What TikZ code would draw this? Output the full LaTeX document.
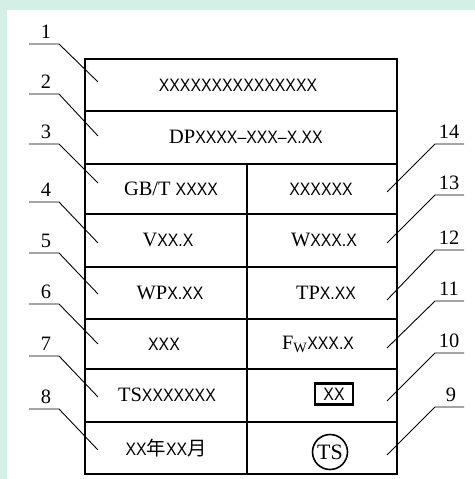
\documentclass[tikz,border=0pt]{standalone}
\usepackage{fontspec}
\setmainfont{Liberation Serif}
\newfontfamily\sansx{Liberation Sans}[Scale=0.88,FakeStretch=0.88]
\newfontfamily\cjk{Noto Sans CJK SC}[Scale=0.95]
\newcommand\sx[1]{{\sansx #1}}
\newcommand\hz[1]{{\cjk #1}}
\definecolor{mint}{RGB}{212,240,230}

\begin{document}
\begin{tikzpicture}[x=1bp,y=-1bp,
  every node/.style={font=\fontsize{20.5}{22}\selectfont, inner sep=0pt},
  frame/.style={line width=1.4bp},
  leader/.style={line width=0.9bp}]
\fill[mint] (0,0) rectangle (475,479);
\fill[white] (7,10) rectangle (475,479);
\useasboundingbox (0,0) rectangle (475,479);

%table
\draw[frame] (85,59) rectangle (397,474);
\draw[frame] (85,111) -- (397,111);
\draw[frame] (85,164) -- (397,164);
\draw[frame] (85,214) -- (397,214);
\draw[frame] (85,267) -- (397,267);
\draw[frame] (85,319) -- (397,319);
\draw[frame] (85,369) -- (397,369);
\draw[frame] (85,422) -- (397,422);
\draw[frame] (247,164) -- (247,474); %middle

%left column
\node (t1) at (238,85) {\sx{XXXXXXXXXXXXXXX}};
\node (t2) at (246,137) {DP\sx{XXXX–XXX–X.XX}};
\node (t3) at (171,189) {GB/T \sx{XXXX}};
\node (t4) at (168,240) {V\sx{XX.X}};
\node (t5) at (170,293) {WP\sx{X.XX}};
\node (t6) at (164,344) {\sx{XXX}};
\node (t7) at (167,395) {TS\sx{XXXXXXX}};
\node (t8) at (166,448) {\sx{XX}\hz{年}\sx{XX}\hz{月}};

%right column
\node (t14) at (321,189) {\sx{XXXXXX}};
\node (t13) at (324,240) {W\sx{XXX.X}};
\node (t12) at (326,293) {TP\sx{X.XX}};
\node (t11) at (318,344) {F\textsubscript{W}\sx{XXX.X}};
\node[draw, line width=2.2bp, minimum width=38bp, minimum height=21bp] (t10) at (334,394) {\sx{XX}};
\node[draw, circle, line width=1.6bp, minimum size=35bp, font=\fontsize{22}{22}\selectfont] (t9) at (330,452) {TS};

%left leaders
\coordinate (a1) at (59,44);  \coordinate (p1) at (98,82);
\coordinate (a2) at (59,94);  \coordinate (p2) at (98,136);
\coordinate (a3) at (59,144); \coordinate (p3) at (98,183);
\coordinate (a4) at (59,202); \coordinate (p4) at (98,243);
\coordinate (a5) at (59,253); \coordinate (p5) at (98,294);
\coordinate (a6) at (59,304); \coordinate (p6) at (98,344);
\coordinate (a7) at (59,356); \coordinate (p7) at (98,397);
\coordinate (a8) at (59,409); \coordinate (p8) at (98,450);
\draw[leader] ([xshift=-30bp]a1) -- (a1) -- (p1);
\draw[leader] ([xshift=-30bp]a2) -- (a2) -- (p2);
\draw[leader] ([xshift=-30bp]a3) -- (a3) -- (p3);
\draw[leader] ([xshift=-30bp]a4) -- (a4) -- (p4);
\draw[leader] ([xshift=-30bp]a5) -- (a5) -- (p5);
\draw[leader] ([xshift=-30bp]a6) -- (a6) -- (p6);
\draw[leader] ([xshift=-30bp]a7) -- (a7) -- (p7);
\draw[leader] ([xshift=-30bp]a8) -- (a8) -- (p8);
\node (n1) at (46,32) {1};
\node (n2) at (46,82) {2};
\node (n3) at (46,132) {3};
\node (n4) at (46,190) {4};
\node (n5) at (46,241) {5};
\node (n6) at (46,292) {6};
\node (n7) at (46,344) {7};
\node (n8) at (46,397) {8};

%right leaders
\coordinate (a14) at (435,144); \coordinate (p14) at (387,192);
\coordinate (a13) at (435,195); \coordinate (p13) at (387,243);
\coordinate (a12) at (435,250); \coordinate (p12) at (387,300);
\coordinate (a11) at (435,301); \coordinate (p11) at (387,348);
\coordinate (a10) at (435,353); \coordinate (p10) at (387,401);
\coordinate (a9) at (435,407);  \coordinate (p9) at (387,455);
\draw[leader] ([xshift=29bp]a14) -- (a14) -- (p14);
\draw[leader] ([xshift=29bp]a13) -- (a13) -- (p13);
\draw[leader] ([xshift=29bp]a12) -- (a12) -- (p12);
\draw[leader] ([xshift=29bp]a11) -- (a11) -- (p11);
\draw[leader] ([xshift=29bp]a10) -- (a10) -- (p10);
\draw[leader] ([xshift=29bp]a9) -- (a9) -- (p9);
\node (n14) at (449,132) {14};
\node (n13) at (449,183) {13};
\node (n12) at (449,238) {12};
\node (n11) at (449,289) {11};
\node (n10) at (449,341) {10};
\node (n9) at (451,395) {9};
\end{tikzpicture}
\end{document}
